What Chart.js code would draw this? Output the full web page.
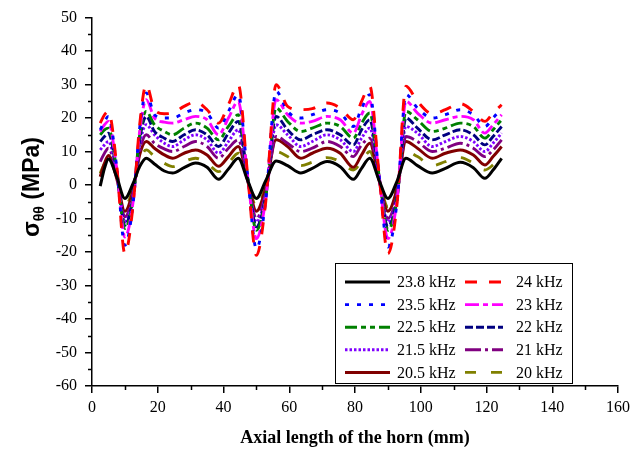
<!DOCTYPE html>
<html>
<head>
<meta charset="utf-8">
<script src="https://cdn.jsdelivr.net/npm/chart.js@4.4.0/dist/chart.umd.min.js"></script>
<style>
html,body{margin:0;padding:0;background:#fff;}
#wrap{width:641px;height:452px;}
</style>
</head>
<body>
<div id="wrap"><canvas id="stressChart" width="641" height="452"></canvas></div>
<script>
// axial position along the horn (mm)
var axialPos = [2.5, 3.8, 5, 7.5, 10, 12.5, 14.5, 16.5, 19, 22, 24.5, 28, 31.5, 35, 38.5, 41.5, 44.5, 47.3, 50, 52.8, 56, 59.5, 63.5, 67, 71.5, 75.5, 79.5, 82, 84.5, 87.3, 90, 92.8, 95.5, 99, 103.5, 107.5, 112, 116, 119.5, 122, 124.6];

// hoop stress (MPa) for each frequency
var s238 = [-0.3, 5, 7.8, 2.5, -4, 0.5, 5.5, 8, 6.3, 4.2, 3.6, 5.2, 6.6, 5.3, 1.7, 4.8, 8, 1.5, -4, 1.2, 7.2, 5.8, 3.6, 5, 7, 5.5, 1.7, 5, 8, 1.5, -4, 1.2, 8, 5.8, 3.6, 5, 6.8, 5.2, 2, 4.5, 8];
var s24 = [18.5, 21, 22, 6, -20.5, -6, 18, 30, 22.5, 21.3, 21.5, 23.5, 24.8, 22.5, 18.5, 24, 30, 3.5, -21, -5.5, 30, 23.5, 22.5, 22.8, 24.5, 23, 19.5, 25, 29.5, 3.5, -20.5, -5.5, 29.5, 25, 21.3, 22.5, 24.3, 22, 19, 21.5, 24];
var s235 = [16.5, 19, 20.5, 5.5, -18, -5.5, 17, 27.5, 21, 20, 20, 21.5, 22.5, 21.5, 17, 22, 27, 3, -19, -5, 28, 22, 20, 21, 22.5, 21.5, 17.5, 23, 27, 3, -18.5, -5, 27, 23, 20, 21, 22.5, 21, 17.5, 20, 23];
var s23 = [16, 18, 19, 5, -15.5, -5, 16, 25.5, 20, 18.8, 18.5, 19.5, 20.5, 19.5, 15, 20, 25, 3, -16, -4.5, 25.5, 21, 18.5, 19, 20.5, 19.5, 15.5, 21, 25, 3, -16, -4.5, 25, 21.5, 18.5, 19.5, 20.5, 19.5, 15.5, 18, 21];
var s225 = [15, 16.5, 17, 4.5, -13, -4, 15, 22, 18, 16, 15, 17, 18.5, 17, 13.5, 17.5, 21, 3, -13.5, -4, 23, 19, 16, 17, 18.5, 17.5, 14, 18.5, 21.5, 3, -13.5, -4, 22, 19.5, 16, 17, 18.5, 17.5, 14, 16.5, 19.5];
var s22 = [13, 14.5, 15.5, 4, -12, -3.5, 13.5, 20.5, 16, 14, 13, 15, 16.5, 15, 11.5, 15.5, 19, 2.5, -12.5, -3.5, 20.5, 16.5, 13.5, 15, 16.5, 15, 12, 16.5, 19.5, 2.5, -12.5, -3.5, 20, 17, 13.5, 15, 16.5, 15, 12, 14.5, 17.5];
var s215 = [10.5, 12, 13, 3.5, -11, -3, 12, 18, 15, 12.5, 11.5, 13.5, 15, 13.5, 9.5, 13, 16.5, 2.5, -11, -3, 18, 15, 11.5, 13, 15, 13.5, 10, 14, 17, 2.5, -11, -3, 17.5, 15.5, 11.5, 13, 14.5, 13, 10, 12.5, 15.5];
var s21 = [7, 9.5, 11, 3, -9.5, -2.5, 10, 15, 12.5, 10.8, 10, 11.5, 13, 11.5, 8, 11, 13.5, 2, -10, -2.5, 14.5, 12.5, 10, 11, 13, 11.5, 8.5, 12, 14, 2, -10, -2.5, 14.5, 13, 10, 11, 12.5, 11, 8.5, 10.5, 13.5];
var s205 = [2.5, 6.5, 8.8, 2, -7.8, -1.5, 9, 13, 11, 9, 8, 9.5, 10.5, 9, 5.6, 8.5, 11.5, 1.5, -7.8, -1, 13.5, 11.5, 8, 9.5, 11, 9.5, 5.3, 9, 12.5, 1.5, -7.8, -1, 13, 11, 8, 9.5, 10.5, 9, 6, 8.5, 11.5];
var s20 = [3.5, 6.5, 8.5, 2.5, -6.3, -1, 7, 10.5, 8.5, 6.5, 5.5, 7, 8, 6.5, 4, 6.5, 9.5, 1.8, -6.5, -0.5, 10, 8.5, 5.8, 6.8, 8.2, 7, 4.5, 7, 10, 1.8, -6.5, -0.5, 10, 8.5, 5.8, 7, 8.2, 6.5, 4.5, 6, 8.5];

var xTicks = [0, 20, 40, 60, 80, 100, 120, 140, 160];
var yTicks = [-60, -50, -40, -30, -20, -10, 0, 10, 20, 30, 40, 50];

var series = [
    {label: '23.8 kHz', data: s238, color: '#000000', dash: [], width: 3},
    {label: '24 kHz',   data: s24,  color: '#ff0000', dash: [12, 12], width: 2.9},
    {label: '23.5 kHz', data: s235, color: '#0000ff', dash: [4, 8], width: 2.9},
    {label: '23 kHz',   data: s23,  color: '#ff00ff', dash: [14, 4, 5, 4], width: 2.9},
    {label: '22.5 kHz', data: s225, color: '#008000', dash: [12, 4, 5, 4, 5, 4], width: 2.9},
    {label: '22 kHz',   data: s22,  color: '#000080', dash: [8, 3], width: 2.9},
    {label: '21.5 kHz', data: s215, color: '#8000ff', dash: [2.5, 2], width: 2.9},
    {label: '21 kHz',   data: s21,  color: '#800080', dash: [16, 4, 3, 4], width: 2.9},
    {label: '20.5 kHz', data: s205, color: '#800000', dash: [], width: 3},
    {label: '20 kHz',   data: s20,  color: '#808000', dash: [11, 15], width: 2.9}
];

var datasets = series.map(function(s){
    return {
        label: s.label,
        data: axialPos.map(function(x, i){ return {x: x, y: s.data[i]}; }),
        borderColor: s.color,
        backgroundColor: s.color,
        borderWidth: s.width,
        borderDash: s.dash,
        pointRadius: 0,
        fill: false,
        cubicInterpolationMode: 'monotone'
    };
});

var serif = '"Liberation Serif", "Times New Roman", serif';

// minor ticks, y-axis title with subscript, boxed two-column legend
var extras = {
    id: 'extras',
    afterDraw: function(chart){
        var ctx = chart.ctx, area = chart.chartArea;
        var xs = chart.scales.x, ys = chart.scales.y;
        ctx.save();
        ctx.strokeStyle = '#000';
        ctx.lineWidth = 1.5;
        ctx.beginPath();
        for (var v = -55; v < 50; v += 10) {
            var py = Math.round(ys.getPixelForValue(v)) + 0.5;
            ctx.moveTo(area.left - 4, py); ctx.lineTo(area.left, py);
        }
        for (var u = 10; u < 160; u += 20) {
            var px = Math.round(xs.getPixelForValue(u)) + 0.5;
            ctx.moveTo(px, area.bottom); ctx.lineTo(px, area.bottom + 4);
        }
        ctx.stroke();

        // y title: sigma theta-theta (MPa)
        ctx.save();
        ctx.translate(31, 187);
        ctx.rotate(-Math.PI / 2);
        ctx.fillStyle = '#000';
        ctx.textBaseline = 'alphabetic';
        var big = 'bold 23px "Liberation Sans", Arial, sans-serif';
        var small = 'bold 14px "Liberation Sans", Arial, sans-serif';
        ctx.font = big; var w1 = ctx.measureText('σ').width;
        ctx.font = small; var w2 = ctx.measureText('θθ').width;
        ctx.font = big; var w3 = ctx.measureText(' (MPa)').width;
        var x0 = -(w1 + w2 + w3) / 2;
        ctx.font = big; ctx.fillText('σ', x0, 8);
        ctx.font = small; ctx.fillText('θθ', x0 + w1, 13);
        ctx.font = big; ctx.fillText(' (MPa)', x0 + w1 + w2, 8);
        ctx.restore();

        // legend box
        var bx = 335, by = 263, bw = 237, bh = 120;
        ctx.fillStyle = '#fff';
        ctx.fillRect(bx, by, bw, bh);
        ctx.lineWidth = 1;
        ctx.strokeStyle = '#000';
        ctx.strokeRect(bx + 0.5, by + 0.5, bw, bh);
        ctx.font = '16px ' + serif;
        ctx.textBaseline = 'middle';
        series.forEach(function(s, i){
            var row = Math.floor(i / 2), col = i % 2;
            var ly = by + 19 + row * 22.6;
            var lx0 = col ? 465 : 345, lx1 = col ? 503 : 390;
            var tx = col ? 516 : 397;
            ctx.save();
            ctx.strokeStyle = s.color;
            ctx.lineWidth = s.width;
            ctx.setLineDash(s.dash);
            ctx.beginPath(); ctx.moveTo(lx0, ly); ctx.lineTo(lx1, ly); ctx.stroke();
            ctx.restore();
            ctx.fillStyle = '#000';
            ctx.fillText(s.label, tx, ly + 1);
        });
        ctx.restore();
    }
};

new Chart(document.getElementById('stressChart'), {
    type: 'line',
    data: {datasets: datasets},
    plugins: [extras],
    options: {
        responsive: false,
        animation: false,
        devicePixelRatio: 1,
        layout: {padding: {top: 17, right: 23, left: 0, bottom: 0}},
        plugins: {legend: {display: false}, tooltip: {enabled: false}},
        scales: {
            x: {
                type: 'linear', min: 0, max: 160,
                afterBuildTicks: function(scale){ scale.ticks = xTicks.map(function(v){ return {value: v}; }); },
                afterFit: function(scale){ scale.height = 66; },
                ticks: {color: '#000', padding: 5, maxRotation: 0, font: {family: serif, size: 16}},
                grid: {drawOnChartArea: false, drawTicks: true, tickLength: 7, color: '#000', lineWidth: 1.5},
                border: {display: true, color: '#000', width: 1.5},
                title: {display: true, text: 'Axial length of the horn (mm)', color: '#000', padding: {top: 0, bottom: 3},
                        font: {family: serif, size: 18, weight: 'bold'}}
            },
            y: {
                type: 'linear', min: -60, max: 50,
                afterBuildTicks: function(scale){ scale.ticks = yTicks.map(function(v){ return {value: v}; }); },
                afterFit: function(scale){ scale.width = 92; },
                ticks: {color: '#000', padding: 8, font: {family: serif, size: 16}},
                grid: {drawOnChartArea: false, drawTicks: true, tickLength: 7, color: '#000', lineWidth: 1.5},
                border: {display: true, color: '#000', width: 1.5}
            }
        }
    }
});
</script>
</body>
</html>
